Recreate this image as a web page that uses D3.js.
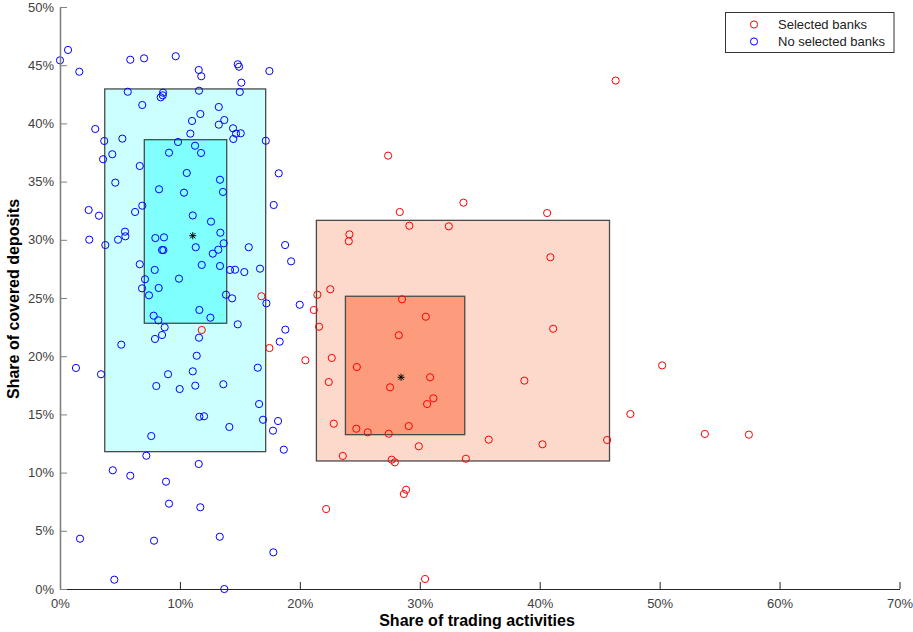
<!DOCTYPE html>
<html>
<head>
<meta charset="utf-8">
<script src="https://cdn.jsdelivr.net/npm/d3@7"></script>
<style>
html,body{margin:0;padding:0;background:#fff;}
svg{display:block;font-family:Arial,"Liberation Sans",Helvetica,sans-serif;}
</style>
</head>
<body>
<svg id="chart" width="913" height="632"></svg>
<script>
// ---- data (percent) ----
const xTicks = [0,10,20,30,40,50,60,70];
const yTicks = [0,5,10,15,20,25,30,35,40,45,50];

const selectedX = [27.36,33.64,28.33,40.62,29.13,32.42,24.13,24.08,40.89,22.54,21.46,21.16,21.60,28.52,30.50,28.25,41.12,20.46,22.66,24.75,30.86,22.41,38.72,27.52,31.13,30.61,22.83,24.71,25.66,27.41,29.08,29.92,35.75,40.23,45.62,23.58,27.66,27.92,33.84,47.56,28.86,28.67,22.19,30.44,16.79,11.82,17.46,46.33,50.21,53.77,57.44];
const selectedY = [37.23,33.19,32.39,32.30,31.21,31.16,30.47,29.87,28.50,25.75,25.28,23.97,22.53,24.89,23.39,21.80,22.36,19.65,19.85,19.07,18.19,17.78,17.90,17.33,16.38,15.89,14.20,13.77,13.46,13.34,14.00,12.26,12.83,12.43,12.80,11.43,11.11,10.88,11.19,15.03,8.53,8.16,6.87,0.86,25.15,22.25,20.70,43.68,19.21,13.32,13.26];

const otherX = [0.0,0.67,1.61,5.86,7.01,9.65,11.57,11.78,14.82,14.93,15.12,17.46,5.65,8.59,8.57,8.40,11.59,14.99,6.86,13.24,11.70,11.01,13.70,13.24,2.94,14.43,14.68,15.07,14.45,10.87,5.20,3.69,17.16,9.84,11.26,9.09,11.76,4.36,3.59,6.65,10.57,18.24,13.34,4.61,8.26,10.34,13.59,17.82,2.39,3.25,6.26,6.86,11.07,12.59,2.44,3.78,4.84,5.42,5.45,7.95,8.67,8.51,8.62,11.32,13.37,13.65,13.20,12.74,15.74,18.77,19.27,6.65,7.90,11.82,13.34,14.18,14.60,15.37,16.68,7.09,9.92,6.84,8.23,7.42,13.84,14.35,17.21,19.99,11.62,7.81,12.54,8.20,8.73,14.82,8.51,7.92,11.59,18.32,18.79,5.11,11.40,1.33,3.42,9.01,11.07,16.49,8.03,9.98,11.28,13.62,16.60,11.62,12.01,16.93,18.18,14.12,17.76,7.61,7.20,18.66,11.57,4.40,5.86,8.84,9.09,11.70,1.67,7.84,13.32,17.79,4.53,13.70];
const otherY = [45.42,46.31,44.44,45.47,45.59,45.77,44.59,44.05,45.08,44.87,43.50,44.50,42.72,42.64,42.41,42.24,42.81,42.70,41.58,41.41,40.81,40.21,40.29,39.89,39.52,39.58,39.12,39.15,38.66,39.12,38.69,38.49,38.51,38.40,38.08,37.48,37.46,37.35,36.92,36.34,35.74,35.71,35.16,34.91,34.34,34.05,34.11,32.99,32.56,32.07,32.39,32.93,32.09,31.56,30.01,29.55,30.01,30.70,30.30,30.15,30.21,29.12,29.12,29.36,30.61,29.70,29.15,28.81,29.36,29.55,28.15,27.90,27.41,27.84,27.75,27.41,27.43,27.23,27.52,26.61,26.66,25.83,25.86,25.23,25.28,24.97,24.54,24.42,23.97,23.48,23.31,23.08,22.48,22.74,21.82,21.48,21.59,21.25,22.28,20.99,20.04,18.99,18.45,18.45,18.70,19.01,17.44,17.18,17.47,17.59,15.89,14.80,14.84,14.54,14.43,13.92,13.60,13.14,11.45,11.97,10.74,10.20,9.73,9.22,7.33,7.02,4.32,4.15,4.49,3.15,0.80,0.00];

// boxes: [x0, x1, y0, y1] outer (percentile range) and inner, plus median star
const otherOuter = [3.73, 17.15, 11.8, 42.96];
const otherInner = [7.03, 13.9, 22.83, 38.6];
const otherMedian = [11.07, 30.35];
const selectedOuter = [21.38, 45.82, 11.0, 31.67];
const selectedInner = [23.8, 33.75, 13.26, 25.15];
const selectedMedian = [28.44, 18.19];

const legendLabels = ["Selected banks", "No selected banks"];

// ---- drawing ----
const svg = d3.select("#chart");
const x = d3.scaleLinear().domain([0,70]).range([60,899.5]);
const y = d3.scaleLinear().domain([0,50]).range([589,7]);

function box(b, fill) {
  svg.append("rect")
    .attr("x", x(b[0])).attr("y", y(b[3]))
    .attr("width", x(b[1]) - x(b[0])).attr("height", y(b[2]) - y(b[3]))
    .attr("fill", fill).attr("stroke", "#4a4a4a").attr("stroke-width", 1.3);
}
box(otherOuter, "#ccffff");
box(otherInner, "#80ffff");
box(selectedOuter, "#fdd9cc");
box(selectedInner, "#fc9c7c");

function star(m) {
  const cx = x(m[0]), cy = y(m[1]), r = 3.5;
  const g = svg.append("g").attr("stroke", "#000").attr("stroke-width", 1);
  g.append("line").attr("x1", cx - r).attr("x2", cx + r).attr("y1", cy).attr("y2", cy);
  g.append("line").attr("x1", cx).attr("x2", cx).attr("y1", cy - r).attr("y2", cy + r);
  g.append("line").attr("x1", cx - r*0.75).attr("x2", cx + r*0.75).attr("y1", cy - r*0.75).attr("y2", cy + r*0.75);
  g.append("line").attr("x1", cx - r*0.75).attr("x2", cx + r*0.75).attr("y1", cy + r*0.75).attr("y2", cy - r*0.75);
}
star(otherMedian);
star(selectedMedian);

const otherPts = otherX.map((v,i) => [v, otherY[i]]);
const selPts = selectedX.map((v,i) => [v, selectedY[i]]);

svg.append("g").selectAll("circle").data(otherPts).join("circle")
  .attr("cx", d => x(d[0])).attr("cy", d => y(d[1])).attr("r", 3.6)
  .attr("fill", "none").attr("stroke", "#0000ff").attr("stroke-width", 1);
svg.append("g").selectAll("circle").data(selPts).join("circle")
  .attr("cx", d => x(d[0])).attr("cy", d => y(d[1])).attr("r", 3.6)
  .attr("fill", "none").attr("stroke", "#ff0000").attr("stroke-width", 1);

// axes (inward ticks)
const xAxis = d3.axisBottom(x).tickValues(xTicks).tickFormat(d => d + "%").tickSizeInner(-7).tickSizeOuter(0).tickPadding(10);
const gx = svg.append("g").attr("transform", "translate(0,589)").call(xAxis);
gx.select(".domain").attr("stroke", "#262626").attr("stroke-width", 1.2);
gx.selectAll(".tick line").attr("stroke", "#262626");
gx.selectAll("text").attr("fill", "#404040").style("font-size", "13px").style("font-family", "Arial, 'Liberation Sans', sans-serif");

const yAxis = d3.axisLeft(y).tickValues(yTicks).tickFormat(d => d + "%").tickSizeInner(-7).tickSizeOuter(0).tickPadding(6);
const gy = svg.append("g").attr("transform", "translate(60,0)").call(yAxis);
gy.select(".domain").attr("stroke", "#808080").attr("stroke-width", 1.6);
gy.selectAll(".tick line").attr("stroke", "#808080");
gy.selectAll("text").attr("fill", "#404040").style("font-size", "13px").style("font-family", "Arial, 'Liberation Sans', sans-serif");

// axis titles
svg.append("text").attr("x", 477).attr("y", 626).attr("text-anchor", "middle")
  .style("font-size", "16px").style("font-weight", "bold").attr("fill", "#000")
  .text("Share of trading activities");
svg.append("text").attr("transform", "translate(19,299) rotate(-90)").attr("text-anchor", "middle")
  .style("font-size", "16px").style("font-weight", "bold").attr("fill", "#000")
  .text("Share of covered deposits");

// legend
const lg = svg.append("g");
lg.append("rect").attr("x", 725.5).attr("y", 12.5).attr("width", 168.5).attr("height", 40)
  .attr("fill", "#fff").attr("stroke", "#333").attr("stroke-width", 1);
const legColors = ["#ff0000", "#0000ff"];
legendLabels.forEach((t, i) => {
  const yy = 24.5 + i * 17;
  lg.append("circle").attr("cx", 754).attr("cy", yy).attr("r", 3.6)
    .attr("fill", "none").attr("stroke", legColors[i]).attr("stroke-width", 1);
  lg.append("text").attr("x", 778).attr("y", yy + 4.5).style("font-size", "13px").attr("fill", "#222").text(t);
});
</script>
</body>
</html>
